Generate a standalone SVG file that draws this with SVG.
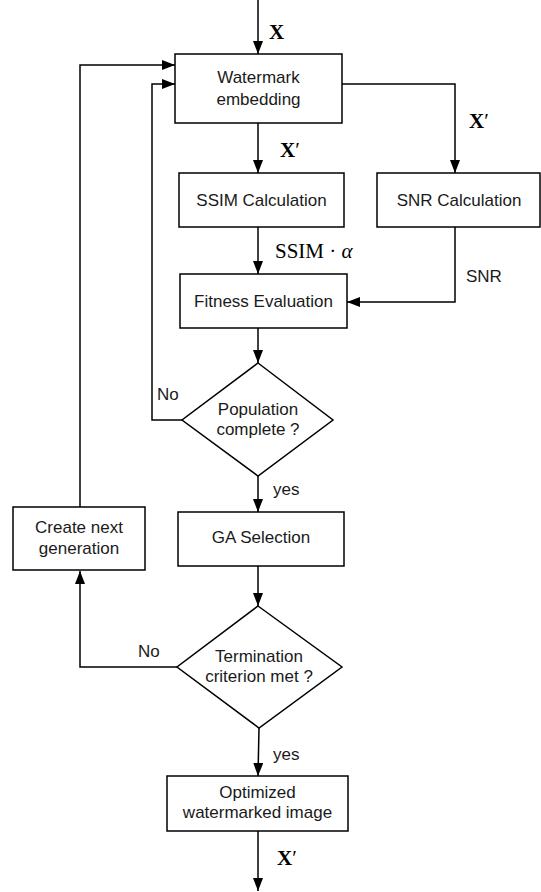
<svg xmlns="http://www.w3.org/2000/svg" width="541" height="892" viewBox="0 0 541 892">
<defs>
<marker id="arr" markerUnits="userSpaceOnUse" markerWidth="14" markerHeight="11" refX="13" refY="5" orient="auto">
<path d="M0,0 L13,5 L0,10 z" fill="#000"/>
</marker>
<style>
.box{fill:#fff;stroke:#000;stroke-width:1.5}
.t{font-family:"Liberation Sans",Arial,sans-serif;font-size:17px;fill:#1a1a1a;text-anchor:middle}
.l{font-family:"Liberation Sans",Arial,sans-serif;font-size:17px;fill:#1a1a1a}
.m{font-family:"Liberation Serif","Times New Roman",serif;font-size:21px;fill:#000}
.mb{font-family:"Liberation Serif","Times New Roman",serif;font-size:21px;font-weight:bold;fill:#000}
.c{fill:none;stroke:#000;stroke-width:1.5}
</style>
</defs>
<rect width="541" height="892" fill="#fff"/>
<g id="connectors">
<path class="c" d="M258,0 L258,54" marker-end="url(#arr)"/>
<path class="c" d="M258,123 L258,173" marker-end="url(#arr)"/>
<path class="c" d="M342,84 L455,84 L455,173" marker-end="url(#arr)"/>
<path class="c" d="M258,227 L258,274" marker-end="url(#arr)"/>
<path class="c" d="M455,227 L455,302 L347,302" marker-end="url(#arr)"/>
<path class="c" d="M258,328 L258,363" marker-end="url(#arr)"/>
<path class="c" d="M182,420 L152,420 L152,84 L175,84" marker-end="url(#arr)"/>
<path class="c" d="M258,476 L258,512" marker-end="url(#arr)"/>
<path class="c" d="M258,566 L258,606" marker-end="url(#arr)"/>
<path class="c" d="M177,667 L80,667 L80,571" marker-end="url(#arr)"/>
<path class="c" d="M80,507 L80,65 L175,65" marker-end="url(#arr)"/>
<path class="c" d="M259,728 L258,776" marker-end="url(#arr)"/>
<path class="c" d="M258,831 L258,891" marker-end="url(#arr)"/>
<text class="mb" x="269" y="39">X</text>
<text class="mb" x="469" y="128">X<tspan font-weight="normal">′</tspan></text>
<text class="mb" x="280" y="157">X<tspan font-weight="normal">′</tspan></text>
<text class="m" x="275" y="258">SSIM · <tspan font-style="italic">α</tspan></text>
<text class="l" x="466" y="282">SNR</text>
<text class="l" x="157" y="400">No</text>
<text class="l" x="273" y="495">yes</text>
<text class="l" x="138" y="657">No</text>
<text class="l" x="273" y="760">yes</text>
<text class="mb" x="277" y="865">X<tspan font-weight="normal">′</tspan></text>
</g>
<g id="watermark">
<rect class="box" x="175" y="54" width="167" height="69"/>
<text class="t" x="258.5" y="83">Watermark</text>
<text class="t" x="258.5" y="105">embedding</text>
</g>
<g id="ssim">
<rect class="box" x="179" y="173" width="165" height="54"/>
<text class="t" x="261.5" y="206">SSIM Calculation</text>
</g>
<g id="snr">
<rect class="box" x="377" y="173" width="163" height="54"/>
<text class="t" x="459" y="206">SNR Calculation</text>
</g>
<g id="fitness">
<rect class="box" x="180" y="274" width="167" height="54"/>
<text class="t" x="263.5" y="307">Fitness Evaluation</text>
</g>
<g id="population">
<path class="box" d="M258,363 L333,420 L258,476 L182,420 z"/>
<text class="t" x="258" y="415">Population</text>
<text class="t" x="258" y="435">complete ?</text>
</g>
<g id="ga">
<rect class="box" x="178" y="512" width="166" height="54"/>
<text class="t" x="261" y="543">GA Selection</text>
</g>
<g id="create">
<rect class="box" x="13" y="507" width="132" height="63"/>
<text class="t" x="79" y="533">Create next</text>
<text class="t" x="79" y="554">generation</text>
</g>
<g id="termination">
<path class="box" d="M258,606 L342,667 L259,728 L177,667 z"/>
<text class="t" x="259" y="662">Termination</text>
<text class="t" x="259" y="682">criterion met ?</text>
</g>
<g id="optimized">
<rect class="box" x="167" y="776" width="181" height="55"/>
<text class="t" x="257.5" y="798">Optimized</text>
<text class="t" x="257.5" y="818">watermarked image</text>
</g>
</svg>
